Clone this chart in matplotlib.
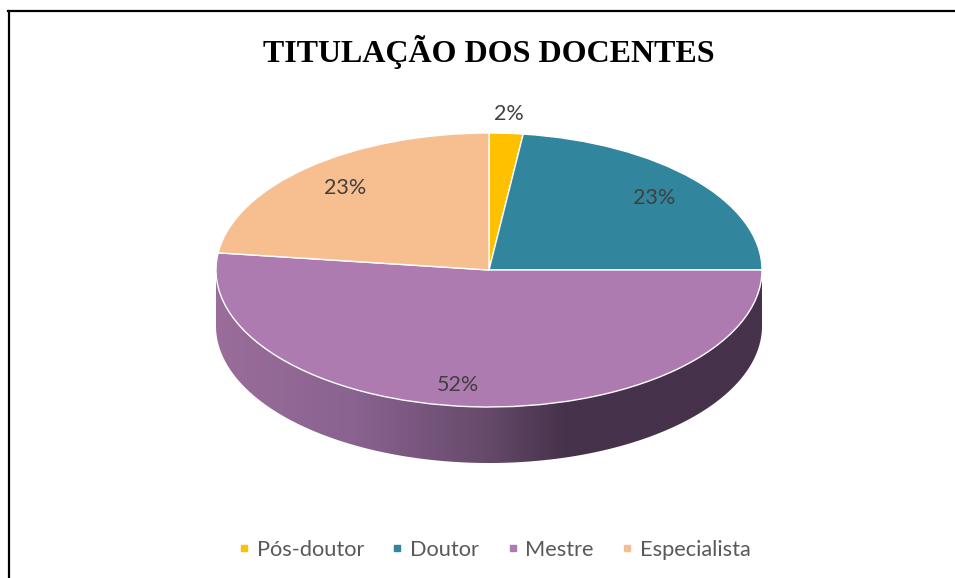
import numpy as np
import matplotlib
matplotlib.use("Agg")
import matplotlib.pyplot as plt
from matplotlib.colors import LinearSegmentedColormap
from matplotlib.lines import Line2D
from matplotlib.patches import Polygon

title = "TITULAÇÃO DOS DOCENTES"
categories = ["Pós-doutor", "Doutor", "Mestre", "Especialista"]
values = [2, 23, 52, 23]
labels = ["2%", "23%", "52%", "23%"]
colors = ["#FFC000", "#31859C", "#AE7BB0", "#F7BE8F"]

W, H = 955, 578
cx, cy, rx, ry = 489, 270, 273, 137
depth = 56 / ry
label_px = [(509, 114), (654, 198), (458, 385), (345, 188)]

fig = plt.figure(figsize=(W / 100, H / 100), dpi=100, facecolor="white")
ax = fig.add_axes([(cx - rx) / W, 1 - (cy + ry) / H, 2 * rx / W, 2 * ry / H])

# Side wall of the slice that reaches the front of the pie
angles = 90 - np.cumsum([0] + values) / sum(values) * 360
front = 2
t = np.radians(np.linspace(angles[front], max(angles[front + 1], -180), 400))
top = np.column_stack([np.cos(t), np.sin(t)])
bottom = np.column_stack([np.cos(t), np.sin(t) - depth])[::-1]
outline = Polygon(np.vstack([top, bottom]), closed=True, transform=ax.transData,
                  facecolor="none", edgecolor="none", clip_on=False)
ax.add_patch(outline)
cmap = LinearSegmentedColormap.from_list(
    "wall",
    [(0.0, "#9A6D9A"), (0.25, "#8A6390"), (0.5, "#65496A"),
     (0.64, "#46324A"), (1.0, "#46324A")],
)
wall = ax.imshow(np.linspace(0, 1, 600)[None, :], cmap=cmap, vmin=0, vmax=1,
                 extent=(-1, 1, -1 - depth, 0), aspect="auto", zorder=1,
                 interpolation="bilinear")

wedges, _ = ax.pie(values, colors=colors, startangle=90, counterclock=False,
                   radius=1, wedgeprops={"edgecolor": "white", "linewidth": 1.0,
                                         "clip_on": False, "zorder": 2})
ax.set_aspect("auto")
ax.set_xlim(-1, 1)
ax.set_ylim(-1, 1)
ax.axis("off")
wall.set_clip_box(fig.bbox)
wall.set_clip_path(outline)
wall.set_clip_box(fig.bbox)

for txt, (px, py) in zip(labels, label_px):
    fig.text(px / W, 1 - py / H, txt, ha="center", va="center", color="#404040",
             fontsize=15.5, family="Lato")

fig.text(489 / W, 1 - 52 / H, title, ha="center", va="center", color="black",
         fontsize=23, fontweight="bold", family="Liberation Serif")

handles = [Line2D([], [], linestyle="none", marker="s", markersize=4.8,
                  markerfacecolor=c, markeredgecolor=c, label=n)
           for c, n in zip(colors, categories)]
fig.legend(handles=handles, loc="center", bbox_to_anchor=(494 / W, 1 - 550 / H),
           ncol=4, frameon=False, labelcolor="#595959",
           prop={"family": "Lato", "size": 15.7},
           handlelength=0.6, handletextpad=0.28, columnspacing=1.24)

fig.add_artist(Line2D([9 / W, 9 / W], [0, 1 - 11 / H], color="black", lw=1.6,
                      transform=fig.transFigure))
fig.add_artist(Line2D([8 / W, 1], [1 - 11 / H, 1 - 11 / H], color="black", lw=1.6,
                      transform=fig.transFigure))

fig.savefig("out.png", dpi=100)
